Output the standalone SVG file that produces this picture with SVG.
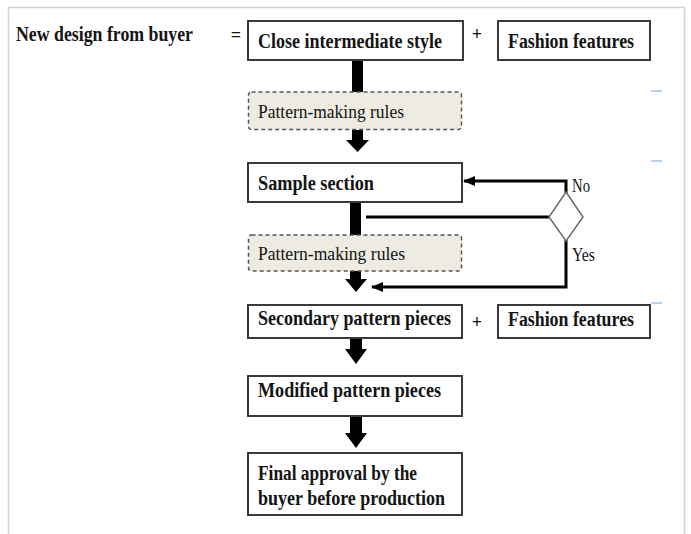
<svg xmlns="http://www.w3.org/2000/svg" width="691" height="534" viewBox="0 0 691 534">
  <defs>
    <style>
      .frame { stroke: #d2d2d2; stroke-width: 1.5; fill: none; }
      .box { fill: #ffffff; stroke: #3a3a3a; stroke-width: 2; }
      .dbox { fill: #eeebe2; stroke: #555555; stroke-width: 1.5; stroke-dasharray: 4 3; }
      .t { font-family: "Liberation Serif", "Times New Roman", serif; font-size: 19px; fill: #141414; }
      .b { font-weight: bold; font-size: 20px; }
      .op { font-family: "Liberation Serif", "Times New Roman", serif; font-size: 18px; font-weight: bold; fill: #141414; text-anchor: middle; }
      .blk { fill: #000000; }
      .ln { fill: none; stroke: #000000; stroke-width: 3; }
      .dia { fill: #ffffff; stroke: #6a6a6a; stroke-width: 1.5; }
      .tick { stroke: #b9d1ea; stroke-width: 2; }
    </style>
    <marker id="ah" viewBox="0 0 12 10" refX="11" refY="5" markerWidth="12" markerHeight="10" markerUnits="userSpaceOnUse" orient="auto">
      <path d="M0,0 L12,5 L0,10 Z" fill="#000000"/>
    </marker>
  </defs>

  <rect width="691" height="534" fill="#ffffff"/>
  <g id="frame">
    <path class="frame" d="M8.5,534 V7.5 H684.5 V534"/>
    <line class="tick" x1="651" y1="91" x2="662" y2="91"/>
    <line class="tick" x1="651" y1="161" x2="662" y2="161"/>
    <line class="tick" x1="651" y1="303" x2="662" y2="303"/>
  </g>

  <g id="header">
    <text class="t b" x="16" y="41" textLength="177" lengthAdjust="spacingAndGlyphs">New design from buyer</text>
    <text class="op" x="236" y="41">=</text>
    <text class="op" x="477" y="40">+</text>
    <text class="op" x="477" y="328">+</text>
  </g>

  <g id="connectors">
    <rect class="blk" x="352" y="60" width="11" height="33"/>
    <rect class="blk" x="352" y="130" width="11" height="11"/>
    <polygon class="blk" points="346,140 369,140 357.5,152"/>
    <rect class="blk" x="350" y="201" width="11" height="35"/>
    <rect class="blk" x="350" y="271" width="11" height="9"/>
    <polygon class="blk" points="345,279 367,279 356,292"/>
    <rect class="blk" x="350" y="337" width="12" height="13"/>
    <polygon class="blk" points="345,349 367,349 356,364"/>
    <rect class="blk" x="350" y="416" width="12" height="18"/>
    <polygon class="blk" points="345,433 367,433 356,448"/>
    <line class="ln" x1="366" y1="217" x2="549" y2="217"/>
    <path class="ln" d="M566,193 V181 H464" marker-end="url(#ah)"/>
    <path class="ln" d="M566,240 V287 H372" marker-end="url(#ah)"/>
  </g>

  <g id="node-close">
    <rect class="box" x="248" y="21" width="215" height="39"/>
    <text class="t b" x="258" y="48" textLength="184" lengthAdjust="spacingAndGlyphs">Close intermediate style</text>
  </g>
  <g id="node-fashion1">
    <rect class="box" x="498" y="21" width="152" height="39"/>
    <text class="t b" x="508" y="48" textLength="126" lengthAdjust="spacingAndGlyphs">Fashion features</text>
  </g>
  <g id="node-rules1">
    <rect class="dbox" x="248.5" y="92" width="213" height="37.5" rx="3"/>
    <text class="t" x="258" y="118" textLength="146" lengthAdjust="spacingAndGlyphs">Pattern-making rules</text>
  </g>
  <g id="node-sample">
    <rect class="box" x="248" y="163" width="214" height="39"/>
    <text class="t b" x="258" y="190" textLength="116" lengthAdjust="spacingAndGlyphs">Sample section</text>
  </g>
  <g id="node-decision">
    <polygon class="dia" points="566,192 583,217 566,241 549,217"/>
    <text class="t" x="572" y="192" textLength="18" lengthAdjust="spacingAndGlyphs">No</text>
    <text class="t" x="572" y="261" textLength="23" lengthAdjust="spacingAndGlyphs">Yes</text>
  </g>
  <g id="node-rules2">
    <rect class="dbox" x="248.5" y="235" width="213" height="36" rx="3"/>
    <text class="t" x="258" y="260" textLength="147" lengthAdjust="spacingAndGlyphs">Pattern-making rules</text>
  </g>
  <g id="node-secondary">
    <rect class="box" x="248" y="305" width="214" height="33"/>
    <text class="t b" x="258" y="325" textLength="193" lengthAdjust="spacingAndGlyphs">Secondary pattern pieces</text>
  </g>
  <g id="node-fashion2">
    <rect class="box" x="498" y="305" width="152" height="33"/>
    <text class="t b" x="508" y="326" textLength="126" lengthAdjust="spacingAndGlyphs">Fashion features</text>
  </g>
  <g id="node-modified">
    <rect class="box" x="248" y="376" width="214" height="40"/>
    <text class="t b" x="258" y="397" textLength="183" lengthAdjust="spacingAndGlyphs">Modified pattern pieces</text>
  </g>
  <g id="node-final">
    <rect class="box" x="248" y="453" width="214" height="62"/>
    <text class="t b" x="258" y="480" textLength="159" lengthAdjust="spacingAndGlyphs">Final approval by the</text>
    <text class="t b" x="258" y="505" textLength="187" lengthAdjust="spacingAndGlyphs">buyer before production</text>
  </g>
</svg>
